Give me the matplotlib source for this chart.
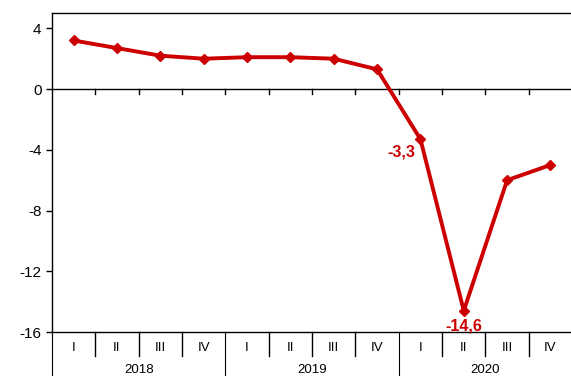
import numpy as np
import matplotlib
matplotlib.use("Agg")
import matplotlib.pyplot as plt
from matplotlib.transforms import blended_transform_factory

plt.rcParams["font.family"] = ["Liberation Sans", "DejaVu Sans"]

quarters = ["I", "II", "III", "IV"] * 3
years = ["2018", "2019", "2020"]
values = [3.2, 2.7, 2.2, 2.0, 2.1, 2.1, 2.0, 1.3, -3.3, -14.6, -6.0, -5.0]
yticks = [-16, -12, -8, -4, 0, 4]
RED = "#cc0000"

fig = plt.figure(figsize=(5.71, 3.76), dpi=100)
ax = fig.add_axes([0.091, 0.117, 0.911, 0.848])
x = np.arange(len(values))
ax.plot(x, values, color=RED, lw=2.8, marker="D", ms=5, zorder=3)
ax.axhline(0, color="black", lw=1.0, zorder=1)

ax.set_xlim(-0.5, len(values) - 0.5)
ax.set_ylim(-16, 5)
ax.set_yticks(yticks)
ax.set_yticklabels([str(t) for t in yticks], fontsize=11)
ax.tick_params(axis="y", direction="out", length=4, width=1)
ax.set_xticks([])
for s in ax.spines.values():
    s.set_linewidth(1.0)

# small ticks on the zero line at category boundaries
for b in np.arange(0.5, len(values) - 0.5):
    ax.plot([b, b], [0, -0.33], color="black", lw=1.0, zorder=1)

# category axis below
tr = blended_transform_factory(ax.transData, ax.transAxes)
for i, q in enumerate(quarters):
    ax.text(i, -0.05, q, transform=tr, ha="center", va="center", fontsize=9.5)
for b in np.arange(-0.5, len(values) + 0.5):
    yr_edge = (b + 0.5) % 4 == 0
    ax.plot([b, b], [0, -0.16 if yr_edge else -0.075], transform=tr,
            color="black", lw=1.0 if not yr_edge else 0.8, clip_on=False)
for j, yr in enumerate(years):
    ax.text(4 * j + 1.5, -0.118, yr, transform=tr, ha="center", va="center", fontsize=9.5)

# annotations
ax.annotate("-3,3", (8, -3.3), xytext=(-4, -9), textcoords="offset points",
            ha="right", va="center", color=RED, fontsize=11.5, fontweight="bold")
ax.annotate("-14,6", (9, -14.6), xytext=(0, -11), textcoords="offset points",
            ha="center", va="center", color=RED, fontsize=11.5, fontweight="bold")

fig.savefig("out.png", dpi=100)
